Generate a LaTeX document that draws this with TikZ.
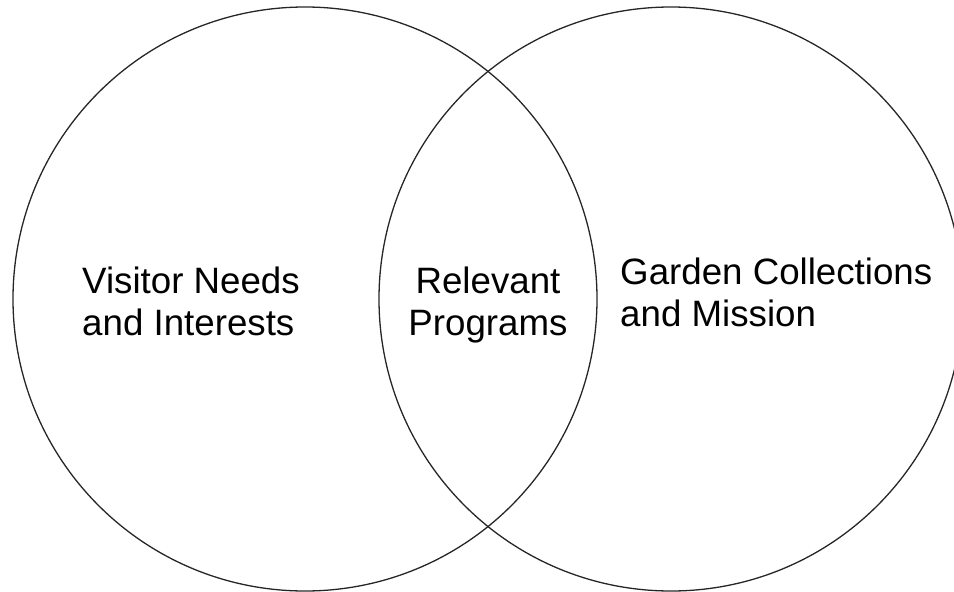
\documentclass[tikz,border=0pt]{standalone}
\usepackage{fontspec}
\setmainfont{Liberation Sans}
\begin{document}
\begin{tikzpicture}[x=1pt,y=-1pt,
  ring/.style={draw=black!85,line width=1.3pt},
  lbl/.style={inner sep=0pt,font=\fontsize{36.7}{42}\selectfont}]
\useasboundingbox (0,0) rectangle (954,592);
\begin{scope}
\clip (0,0) rectangle (954,592);
\node[ring,circle,minimum size=584pt,inner sep=0pt] (left) at (305,299) {};
\node[ring,circle,minimum size=584pt,inner sep=0pt] (right) at (671,299) {};
\end{scope}
\node[lbl,align=left,anchor=base west] (visitor) at (82,335) {Visitor Needs\\and Interests};
\node[lbl,align=center,anchor=base] (relevant) at (488,335) {Relevant\\Programs};
\node[lbl,align=left,anchor=base west] (garden) at (620,326) {Garden Collections\\and Mission};
\end{tikzpicture}
\end{document}
